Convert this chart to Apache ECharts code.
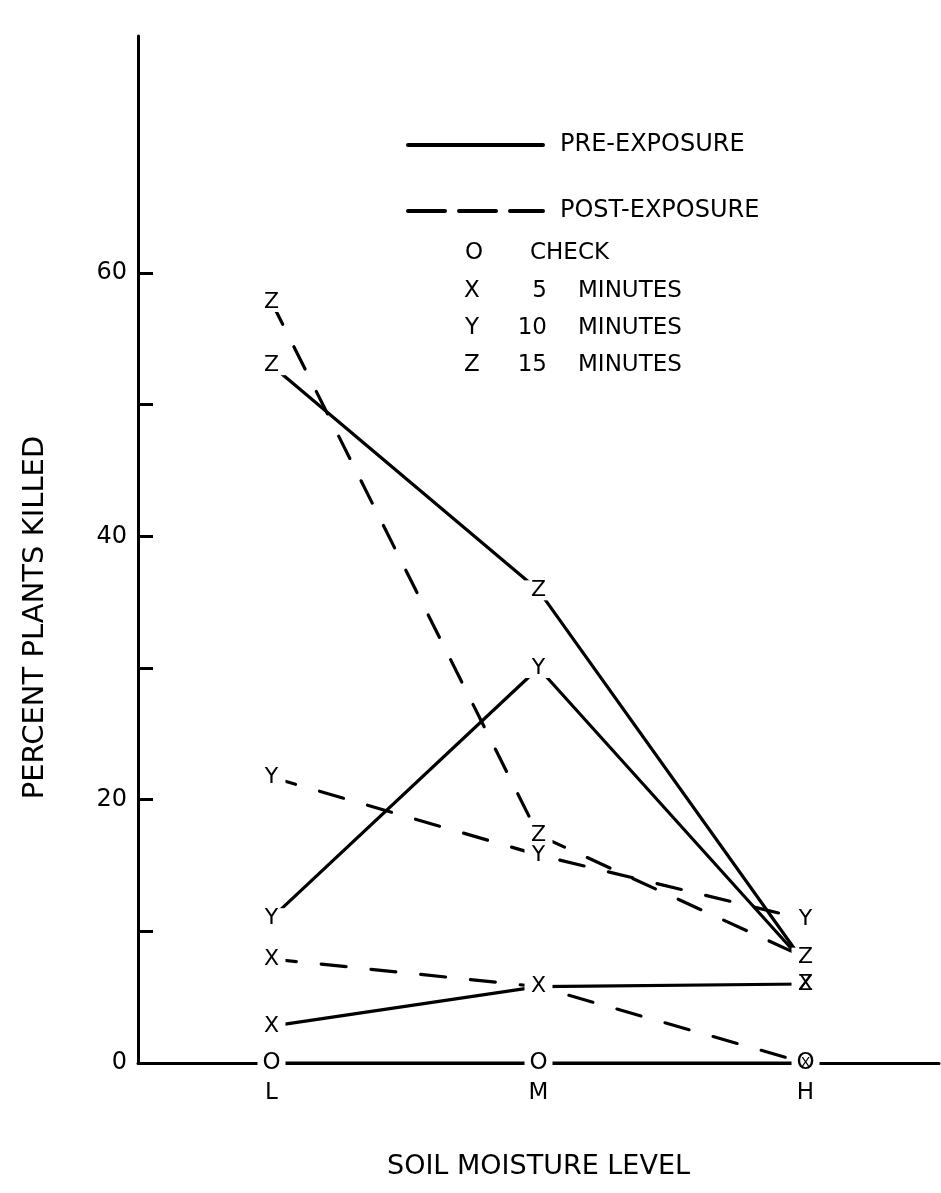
<!DOCTYPE html>
<html>
<head>
<meta charset="utf-8">
<script src="https://cdn.jsdelivr.net/npm/echarts@6/dist/echarts.min.js"></script>
<style>html,body{margin:0;padding:0;background:#fff}#c{width:941px;height:1193px}</style>
</head>
<body>
<div id="c"></div>
<script>
// ---- data ----
const categories = ['L', 'M', 'H'];
const yTickValues = [10, 20, 30, 40, 50, 60];
const yLabelValues = [0, 20, 40, 60];

const checkValues = [0, 0, 0];
const preX = [2.8, 5.8, 6.0];
const preY = [11.0, 30.0, 7.5];
const preZ = [53.0, 35.9, 7.5];
const postX = [7.9, 5.8, 0];
const postY = [21.7, 15.8, 10.9];
const postZ = [57.8, 17.3, 8.0];

const checkLetters = ['O', 'O', 'O'];
const preXLetters = ['X', 'X', 'X'];
const preYLetters = ['Y', 'Y', ''];
const preZLetters = ['Z', 'Z', ''];
const postXLetters = ['X', '', ''];
const postYLetters = ['Y', 'Y', 'Y'];
const postZLetters = ['Z', 'Z', 'Z'];

// ---- chart ----
const FONT = '"DejaVu Sans"';
const chart = echarts.init(document.getElementById('c'), null, {renderer: 'canvas'});

function lineSeries(values, dashed) {
  return {
    type: 'line', data: values, symbol: 'none', z: 2, silent: true,
    lineStyle: {color: '#000', width: 3.2, type: dashed ? [25, 25] : 'solid', cap: 'round'}
  };
}
function letterSeries(values, letters, opts) {
  opts = opts || {};
  const data = [];
  const texts = [];
  values.forEach((v, i) => { if (letters[i] && v !== null) { data.push([i, v]); texts.push(letters[i]); } });
  const fs = opts.fontSize || 22;
  return {
    type: 'custom', data: data, z: opts.z || 5, silent: true, clip: false,
    renderItem: function (params, api) {
      const pt = api.coord([api.value(0), api.value(1)]);
      const children = [];
      if (!opts.noBg) {
        children.push({type: 'rect', shape: {x: pt[0] - 14, y: pt[1] - 10, width: 28, height: 20}, style: {fill: '#fff'}});
      }
      children.push({type: 'text', x: pt[0], y: pt[1] + (opts.dy || 0),
        style: {text: texts[params.dataIndex], font: fs + 'px ' + FONT, fill: '#000', align: 'center', verticalAlign: 'middle'}});
      return {type: 'group', children: children};
    }
  };
}

const option = {
  backgroundColor: '#fff',
  animation: false,
  grid: {left: 138, right: 2, top: 36, bottom: 130},
  xAxis: {
    type: 'category', data: categories, boundaryGap: true,
    name: 'SOIL MOISTURE LEVEL', nameLocation: 'middle', nameGap: 90,
    nameTextStyle: {fontFamily: 'DejaVu Sans', fontSize: 27, color: '#000'},
    axisLine: {lineStyle: {color: '#000', width: 3}},
    axisTick: {show: false},
    axisLabel: {fontFamily: 'DejaVu Sans', fontSize: 23, color: '#000', margin: 19}
  },
  yAxis: {
    type: 'value', min: 0, max: 78,
    name: 'PERCENT PLANTS KILLED', nameLocation: 'middle', nameGap: 88, nameRotate: 90,
    nameTextStyle: {fontFamily: 'DejaVu Sans', fontSize: 29, color: '#000', padding: [0, 136, 0, 0]},
    splitLine: {show: false},
    axisLine: {show: true, lineStyle: {color: '#000', width: 3}},
    axisTick: {show: true, inside: true, length: 15, customValues: yTickValues, lineStyle: {color: '#000', width: 3}},
    axisLabel: {customValues: yLabelValues, fontFamily: 'DejaVu Sans', fontSize: 24, color: '#000', margin: 11}
  },
  series: [
    lineSeries(checkValues, false),
    lineSeries(preX, false),
    lineSeries(preY, false),
    lineSeries(preZ, false),
    lineSeries(postX, true),
    lineSeries(postY, true),
    lineSeries(postZ, true),
    letterSeries(checkValues, checkLetters, {fontSize: 23}),
    letterSeries(preX, preXLetters),
    letterSeries(preY, preYLetters),
    letterSeries(preZ, preZLetters),
    letterSeries(postX, postXLetters),
    letterSeries(postY, postYLetters),
    letterSeries(postZ, postZLetters),
    // overprinted marks: Z over the X at H (hourglass), small X inside the check O at H
    letterSeries([null, null, preX[2]], ['', '', 'Z'], {noBg: true, z: 8}),
    letterSeries([null, null, postX[2]], ['', '', 'X'], {noBg: true, z: 8, fontSize: 14})
  ],
  graphic: [
    {type: 'line', shape: {x1: 408, y1: 145, x2: 543, y2: 145}, style: {stroke: '#000', lineWidth: 4, lineCap: 'round'}},
    {type: 'text', x: 560, y: 145, style: {text: 'PRE-EXPOSURE', font: '24px "DejaVu Sans"', fill: '#000', verticalAlign: 'middle'}},
    {type: 'line', shape: {x1: 408, y1: 211, x2: 543, y2: 211}, style: {stroke: '#000', lineWidth: 4, lineDash: [37, 14], lineCap: 'round'}},
    {type: 'text', x: 560, y: 211, style: {text: 'POST-EXPOSURE', font: '24px "DejaVu Sans"', fill: '#000', verticalAlign: 'middle'}},
    {type: 'text', x: 474, y: 253, style: {text: 'O', font: '23px "DejaVu Sans"', fill: '#000', align: 'center', verticalAlign: 'middle'}},
    {type: 'text', x: 530, y: 253, style: {text: 'CHECK', font: '23px "DejaVu Sans"', fill: '#000', verticalAlign: 'middle'}},
    {type: 'text', x: 472, y: 291, style: {text: 'X', font: '23px "DejaVu Sans"', fill: '#000', align: 'center', verticalAlign: 'middle'}},
    {type: 'text', x: 547, y: 291, style: {text: '5', font: '23px "DejaVu Sans"', fill: '#000', align: 'right', verticalAlign: 'middle'}},
    {type: 'text', x: 578, y: 291, style: {text: 'MINUTES', font: '23px "DejaVu Sans"', fill: '#000', verticalAlign: 'middle'}},
    {type: 'text', x: 472, y: 328, style: {text: 'Y', font: '23px "DejaVu Sans"', fill: '#000', align: 'center', verticalAlign: 'middle'}},
    {type: 'text', x: 547, y: 328, style: {text: '10', font: '23px "DejaVu Sans"', fill: '#000', align: 'right', verticalAlign: 'middle'}},
    {type: 'text', x: 578, y: 328, style: {text: 'MINUTES', font: '23px "DejaVu Sans"', fill: '#000', verticalAlign: 'middle'}},
    {type: 'text', x: 472, y: 365, style: {text: 'Z', font: '23px "DejaVu Sans"', fill: '#000', align: 'center', verticalAlign: 'middle'}},
    {type: 'text', x: 547, y: 365, style: {text: '15', font: '23px "DejaVu Sans"', fill: '#000', align: 'right', verticalAlign: 'middle'}},
    {type: 'text', x: 578, y: 365, style: {text: 'MINUTES', font: '23px "DejaVu Sans"', fill: '#000', verticalAlign: 'middle'}}
  ]
};
chart.setOption(option);
</script>
</body>
</html>
